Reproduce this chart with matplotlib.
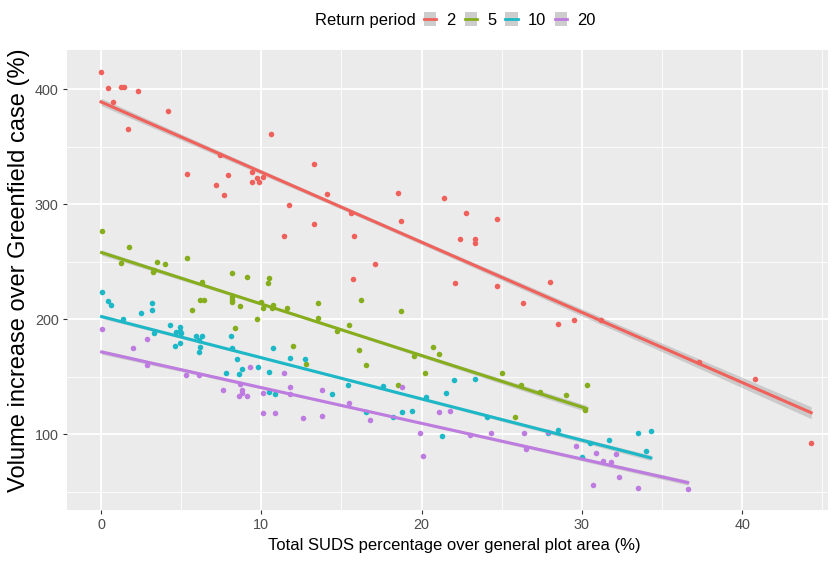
import numpy as np
import matplotlib
matplotlib.use("Agg")
import matplotlib.pyplot as plt
from matplotlib.lines import Line2D
from matplotlib.patches import Rectangle
from matplotlib.ticker import MultipleLocator

# return period -> (SUDS %, volume increase %)
rp_labels = ["2", "5", "10", "20"]
colors = ["#F0615B", "#86AE1C", "#1DB8C8", "#BE7BE0"]

x_rp2 = [0, 0.46, 1.25, 1.43, 2.3, 0.77, 4.2, 1.7, 10.6, 7.4, 13.3, 5.35, 7.9, 9.44,
         9.44, 9.86, 9.75, 10.1, 7.2, 7.7, 11.7, 13.3, 11.4, 14.1, 18.5, 21.4, 15.6,
         18.7, 22.8, 24.7, 15.8, 22.4, 23.3, 23.3, 17.1, 15.7, 22.1, 24.7, 28.0, 26.3,
         28.5, 29.5, 31.2, 37.3, 40.8, 44.3]
y_rp2 = [415, 401, 402, 402, 398, 389, 381, 365, 361, 343, 335, 326, 325, 328,
         319, 319, 323, 324, 317, 308, 299, 283, 272, 309, 310, 305, 292,
         285, 292, 287, 272, 270, 270, 266, 248, 235, 231, 229, 232, 214,
         196, 199, 199, 163, 148, 92]

x_rp5 = [0.04, 1.77, 1.23, 3.5, 3.3, 3.26, 4.0, 5.35, 6.3, 8.2, 9.1, 10.5, 10.4, 6.2,
         6.4, 8.15, 8.15, 8.2, 8.7, 5.65, 10.0, 10.1, 10.75, 10.65, 11.6, 13.55, 13.55,
         9.75, 8.36, 12.0, 12.8, 16.2, 18.7, 14.7, 15.5, 20.7, 16.1, 16.5, 19.5, 21.1,
         20.2, 18.5, 25.0, 26.2, 27.4, 25.8, 29.0, 30.3, 30.2]
y_rp5 = [277, 263, 249, 250, 243, 241, 248, 253, 232, 240, 237, 236, 231, 217,
         217, 219, 215, 217, 211, 208, 215, 210, 212, 210, 210, 214, 201,
         200, 192, 177, 161, 217, 207, 190, 195, 176, 173, 160, 168, 170,
         153, 143, 153, 143, 137, 115, 134, 143, 121]

x_rp10 = [0.04, 0.46, 0.6, 3.2, 3.2, 2.5, 1.4, 4.3, 4.9, 4.9, 4.7, 5.0, 3.3, 5.9, 6.3,
          6.1, 6.2, 6.1, 4.6, 4.9, 8.1, 8.2, 8.5, 10.7, 11.8, 12.7, 8.8, 8.6, 9.8, 10.5,
          7.8, 10.5, 10.85, 15.4, 14.4, 17.6, 16.5, 18.8, 19.4, 18.2, 20.3, 21.5, 22.0,
          23.3, 24.1, 21.3, 27.9, 28.5, 30.0, 30.5, 31.7, 33.5, 34.3, 34.0]
y_rp10 = [224, 216, 212, 214, 208, 205, 200, 195, 193, 190, 189, 188, 188, 185, 185,
          182, 176, 171, 177, 179, 185, 175, 165, 175, 166, 165, 157, 152, 158, 154,
          153, 137, 135, 143, 135, 142, 119, 119, 120, 115, 132, 136, 147,
          148, 115, 98, 101, 104, 80, 92, 95, 101, 103, 85]

x_rp20 = [0.04, 2.0, 2.9, 2.9, 5.3, 6.1, 7.6, 8.7, 8.8, 8.8, 9.3, 8.6, 9.1, 10.1, 11.4,
          11.8, 11.8, 10.1, 10.85, 12.6, 13.8, 13.8, 15.5, 16.8, 18.8, 19.9, 20.1, 21.1,
          21.8, 23.0, 24.3, 26.4, 26.5, 27.9, 29.6, 30.9, 32.1, 31.3, 31.8, 32.3, 30.7,
          33.5, 36.6]
y_rp20 = [191, 175, 183, 160, 151, 151, 138, 144, 138, 136, 158, 133, 133, 136, 153,
          141, 135, 118, 118, 114, 138, 116, 127, 112, 141, 101, 81, 119,
          120, 99, 101, 101, 87, 102, 90, 84, 83, 77, 76, 63, 56,
          53, 52]

x_data = [x_rp2, x_rp5, x_rp10, x_rp20]
y_data = [y_rp2, y_rp5, y_rp10, y_rp20]

FONT = ["Liberation Sans", "DejaVu Sans"]


def lm_fit(x, y):
    # straight line fit with a thin standard-error band, like geom_smooth(method = "lm")
    x = np.asarray(x, float)
    y = np.asarray(y, float)
    b, a = np.polyfit(x, y, 1)
    xs = np.linspace(x.min(), x.max(), 80)
    fit = a + b * xs
    resid = y - (a + b * x)
    n = len(x)
    s = np.sqrt(np.sum(resid ** 2) / (n - 2))
    sxx = np.sum((x - x.mean()) ** 2)
    se = s * np.sqrt(1.0 / n + (xs - x.mean()) ** 2 / sxx)
    return xs, fit, 0.5 * se


fig = plt.figure(figsize=(8.36, 5.62), dpi=100)
ax = fig.add_axes([67 / 836, 52 / 562, 761 / 836, 460 / 562])
ax.set_facecolor("#EBEBEB")
for s in ax.spines.values():
    s.set_visible(False)

ax.xaxis.set_major_locator(MultipleLocator(10))
ax.xaxis.set_minor_locator(MultipleLocator(5))
ax.yaxis.set_major_locator(MultipleLocator(100))
ax.yaxis.set_minor_locator(MultipleLocator(50))
ax.grid(True, which="major", color="white", lw=1.3)
ax.grid(True, which="minor", color="white", lw=0.6)
ax.set_axisbelow(True)

for x, y, c in zip(x_data, y_data, colors):
    xs, fit, band = lm_fit(x, y)
    ax.fill_between(xs, fit - band, fit + band, color="#999999", alpha=0.4, lw=0, zorder=2)
    ax.scatter(x, y, s=16, color=c, lw=0, zorder=3)
    ax.plot(xs, fit, color=c, lw=2.2, zorder=4)

ax.set_xlim(-2.12, 45.35)
ax.set_ylim(34, 434)

ax.tick_params(which="major", length=3, width=0.8, color="#333333",
               labelcolor="#4D4D4D", labelsize=10.4, pad=3)
ax.tick_params(which="minor", length=0)
for lab in ax.get_xticklabels() + ax.get_yticklabels():
    lab.set_family(FONT)

ax.set_xlabel("Total SUDS percentage over general plot area (%)",
              fontsize=12, family=FONT, color="black")
ax.xaxis.set_label_coords((454 - 67) / 761, (510 - 538) / 460)
ax.set_ylabel("Volume increase over Greenfield case (%)",
              fontsize=17, family=FONT, color="black")
ax.yaxis.set_label_coords((30 - 67) / 761, (510 - 270) / 460)

# legend on top, title inline
fig.text(315 / 836, 1 - 20 / 562, "Return period", fontsize=11.9, family=FONT,
         ha="left", va="center")
handles = [(Rectangle((0, 0), 1, 1, facecolor="#CDCDCD", edgecolor="none"),
            Line2D([], [], color=c, lw=2)) for c in colors]
fig.legend(handles, rp_labels, ncol=4, loc="center left",
           bbox_to_anchor=(424 / 836, 1 - 20 / 562), frameon=False,
           prop={"family": FONT, "size": 11.9},
           handlelength=0.75, handleheight=0.9, handletextpad=0.6,
           columnspacing=0.55, borderpad=0, borderaxespad=0)

fig.savefig("out.png", dpi=100)
